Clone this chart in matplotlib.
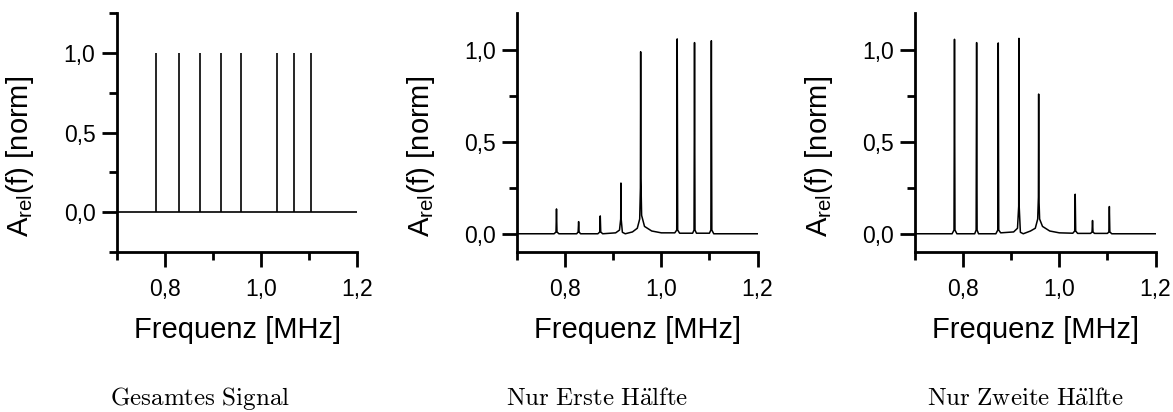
import matplotlib
matplotlib.use("Agg")
import matplotlib.pyplot as plt
from matplotlib.ticker import FixedLocator, FuncFormatter

plt.rcParams['font.family'] = ['Liberation Sans', 'DejaVu Sans']
plt.rcParams['mathtext.default'] = 'regular'

# Peak frequencies [MHz] and heights, panel 1 (full signal)
freq_peaks = [0.782, 0.828, 0.873, 0.916, 0.957, 1.033, 1.069, 1.104]
amp_total = [1.0, 1.0, 1.0, 1.0, 1.0, 1.0, 1.0, 1.0]

freq_grid = [0.700, 0.777, 0.781, 0.782, 0.783, 0.787,
             0.824, 0.827, 0.828, 0.829, 0.832,
             0.868, 0.872, 0.873, 0.874, 0.878,
             0.905, 0.913, 0.9155, 0.916, 0.9165, 0.919, 0.925,
             0.940, 0.950, 0.955, 0.9565, 0.957, 0.9575, 0.959, 0.965, 0.980, 1.000,
             1.028, 1.032, 1.033, 1.034, 1.038,
             1.065, 1.068, 1.069, 1.070, 1.073,
             1.100, 1.103, 1.104, 1.105, 1.109,
             1.200]

amp_first = [0.0, 0.0, 0.01, 0.135, 0.01, 0.0,
             0.0, 0.01, 0.066, 0.01, 0.0,
             0.0, 0.01, 0.097, 0.01, 0.0,
             0.005, 0.02, 0.08, 0.276, 0.08, 0.008, 0.0,
             0.01, 0.03, 0.08, 0.25, 0.99, 0.30, 0.10, 0.04, 0.015, 0.005,
             0.005, 0.02, 1.06, 0.02, 0.003,
             0.003, 0.02, 1.04, 0.02, 0.003,
             0.003, 0.02, 1.05, 0.02, 0.0,
             0.0]

amp_second = [0.0, 0.0, 0.02, 1.058, 0.02, 0.0,
              0.0, 0.02, 1.04, 0.02, 0.0,
              0.0, 0.02, 1.038, 0.02, 0.005,
              0.01, 0.03, 0.15, 1.063, 0.15, 0.008, 0.0,
              0.015, 0.03, 0.08, 0.20, 0.76, 0.20, 0.08, 0.04, 0.015, 0.005,
              0.003, 0.015, 0.215, 0.015, 0.002,
              0.002, 0.01, 0.072, 0.01, 0.002,
              0.002, 0.01, 0.148, 0.01, 0.0,
              0.0]

titles = ['Gesamtes Signal', 'Nur Erste H\\ddot{a}lfte', 'Nur Zweite H\\ddot{a}lfte']

komma = FuncFormatter(lambda v, p: f'{v:.1f}'.replace('.', ','))


def achse(fig, left, ylim, yminor):
    ax = fig.add_axes([left, 0.388, 0.205, 0.580])
    ax.set_xlim(0.7, 1.2)
    ax.set_ylim(*ylim)
    for s in ['top', 'right']:
        ax.spines[s].set_visible(False)
    for s in ['left', 'bottom']:
        ax.spines[s].set_linewidth(2.0)
    ax.xaxis.set_major_locator(FixedLocator([0.8, 1.0, 1.2]))
    ax.xaxis.set_minor_locator(FixedLocator([0.7, 0.9, 1.1]))
    ax.yaxis.set_major_locator(FixedLocator([0.0, 0.5, 1.0]))
    ax.yaxis.set_minor_locator(FixedLocator(yminor))
    ax.xaxis.set_major_formatter(komma)
    ax.yaxis.set_major_formatter(komma)
    ax.tick_params(which='major', direction='out', length=10.5, width=2.0, labelsize=16.5)
    ax.tick_params(which='minor', direction='out', length=5.5, width=2.0)
    ax.tick_params(axis='x', which='major', pad=8)
    ax.tick_params(axis='y', which='major', pad=5)
    ax.set_xlabel('Frequenz [MHz]', fontsize=21, labelpad=11)
    ax.set_ylabel(r'$\mathregular{A_{rel}}$(f) [norm]', fontsize=21)
    ax.yaxis.set_label_coords(-0.335, 0.40)
    return ax


fig = plt.figure(figsize=(11.73, 4.12), dpi=100)

ax1 = achse(fig, 0.0997, (-0.25, 1.25), [-0.25, 0.25, 0.75, 1.25])
ax1.axhline(0, color='black', lw=1.2)
ax1.vlines(freq_peaks, 0, amp_total, color='black', lw=1.2)

ax2 = achse(fig, 0.4408, (-0.1, 1.2), [0.25, 0.75])
ax2.plot(freq_grid, amp_first, color='black', lw=1.1)

ax3 = achse(fig, 0.7801, (-0.1, 1.2), [0.25, 0.75])
ax3.plot(freq_grid, amp_second, color='black', lw=1.1)

for xc, t in zip([0.1705, 0.509, 0.874], titles):
    fig.text(xc, 0.017, '$\\mathrm{' + t.replace(' ', '\\ ') + '}$',
             math_fontfamily='cm', fontsize=18, ha='center', va='baseline')

fig.savefig('out.png', dpi=100)
